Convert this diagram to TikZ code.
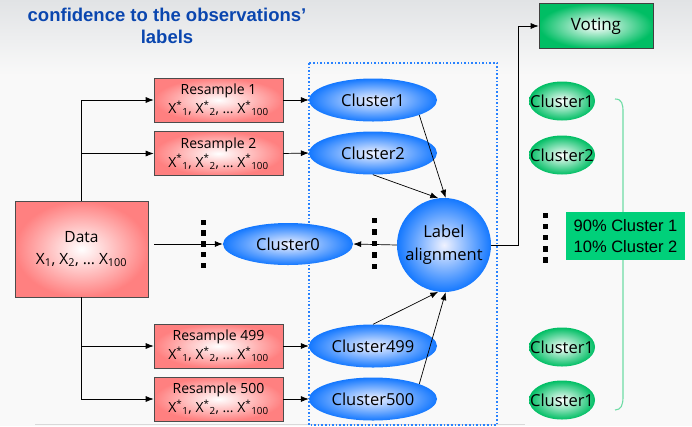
\documentclass[tikz,border=0pt]{standalone}
\usepackage{fontspec}
\setmainfont{Liberation Sans}
\newfontfamily\comic{Open Sans}
\usetikzlibrary{arrows.meta,shapes.geometric,calc}
\definecolor{bgc}{RGB}{249,249,249}
\definecolor{bgtop}{RGB}{225,227,229}
\definecolor{titlec}{RGB}{10,70,175}
\definecolor{pinkc}{RGB}{255,128,128}
\definecolor{blueOut}{RGB}{20,120,255}
\definecolor{blueIn}{RGB}{240,242,255}
\definecolor{greenOut}{RGB}{0,190,100}
\definecolor{greenbox}{RGB}{0,208,122}
\definecolor{bracec}{RGB}{110,220,165}
\definecolor{dotblue}{RGB}{40,130,255}
\newcommand{\xstar}{X\textsuperscript{*}\textsubscript{1}, X\textsuperscript{*}\textsubscript{2}, \dots\ X\textsuperscript{*}\textsubscript{100}}
\newcommand{\tight}[1]{\makebox[0pt]{#1}}
\begin{document}
\begin{tikzpicture}[x=1pt,y=-1pt,
  pinkbox/.style={draw=black!70, line width=0.6pt, shading=radial, inner color=white,
    outer color=pinkc, inner sep=0pt, align=center},
  resbox/.style={pinkbox, minimum width=129pt, minimum height=44pt,
    font=\comic\fontsize{14}{19}\selectfont},
  blueell/.style={ellipse, shading=radial, inner color=blueIn, outer color=blueOut,
    minimum width=128pt, minimum height=43pt, inner sep=0pt,
    font=\comic\fontsize{16.5}{19}\selectfont},
  greenell/.style={ellipse, shading=radial, inner color=white, outer color=greenOut,
    minimum width=66pt, minimum height=39pt, inner sep=0pt,
    font=\comic\fontsize{16.5}{19}\selectfont},
  arr/.style={-{Latex[length=8pt,width=6pt]}, line width=0.7pt}
]
\useasboundingbox (0,0) rectangle (692,426);
% background
\fill[bgc] (0,0) rectangle (692,426);
\shade[top color=bgtop, bottom color=bgc] (0,0) rectangle (692,75);
\draw[black!15, line width=0.8pt] (35,424) -- (525,424);

% title
\node[font=\bfseries\fontsize{18.5}{22}\selectfont, text=titlec, align=center] (title) at (167,26)
  {confidence to the observations'\\labels};

% dotted frame
\draw[dotblue, dotted, line width=1.6pt] (309,63) rectangle (497,425);

% data box
\node[pinkbox, minimum width=133pt, minimum height=96pt, font=\comic\fontsize{15.5}{22}\selectfont]
  (data) at (81.5,249) {Data\\X\textsubscript{1}, X\textsubscript{2}, \dots\ X\textsubscript{100}};

% resample boxes
\node[resbox] (r1) at (218.5,100) {Resample 1\\\xstar};
\node[resbox] (r2) at (218.5,153.5) {Resample 2\\\xstar};
\node[resbox] (r499) at (218.5,346) {Resample 499\\\xstar};
\node[resbox] (r500) at (218.5,399) {Resample 500\\\xstar};

% blue clusters
\node[blueell] (c1) at (373,100) {Cluster1};
\node[blueell] (c2) at (373,153) {Cluster2};
\node[blueell] (c499) at (373,346) {Cluster499};
\node[blueell] (c500) at (373,399) {Cluster500};
\node[blueell, minimum width=130pt, minimum height=42pt] (c0) at (288,244) {Cluster0};
\node[circle, shading=radial, inner color=blueIn, outer color=blueOut, minimum size=94pt,
  inner sep=0pt, align=center, font=\comic\fontsize{16.5}{23}\selectfont] (la) at (444,245)
  {Label\\alignment};

% voting
\node[draw=black!75, line width=0.7pt, shading=radial, inner color=white, outer color=greenOut,
  minimum width=114pt, minimum height=45pt, font=\comic\fontsize{17}{19}\selectfont]
  (vot) at (596,26) {Voting};

% green clusters
\node[greenell] (g1) at (562,101) {\tight{Cluster1}};
\node[greenell] (g2) at (562,155) {\tight{Cluster2}};
\node[greenell] (g3) at (562,347) {\tight{Cluster1}};
\node[greenell] (g4) at (562,400) {\tight{Cluster1}};

% brace
\draw[bracec, line width=1.1pt] (615,99) .. controls (622,99) and (623,104) .. (623,112)
  -- (623,397) .. controls (623,405) and (621,410) .. (615,410);
\node[fill=greenbox, minimum width=119pt, minimum height=48pt, inner sep=0pt, align=center,
  font=\fontsize{16.5}{21}\selectfont] (res) at (625.5,236) {90\% Cluster 1\\10\% Cluster 2};

% connectors from data
\draw[arr] (data.north) |- (r1.west);
\draw[arr] (data.north) |- (r2.west);
\draw[arr] (data.south) |- (r499.west);
\draw[arr] (data.south) |- (r500.west);
\draw[arr] (data.east |- c0.west) ++(6,0) -- (c0.west);

% resample to clusters
\draw[arr] (r1.east) -- (c1.west);
\draw[arr] (r2.east) -- (c2.west);
\draw[arr] (r499.east) -- (c499.west);
\draw[arr] (r500.east) -- (c500.west);

% clusters to label alignment
\draw[arr] (c1.-18) -- (la.88);
\draw[arr] (c2.south) -- (la.97);
\draw[arr] (c499.north) -- (la.-97);
\draw[arr] (c500.18) -- (la.-88);
\draw[arr] (la.west) -- (c0.east);

% to voting
\draw[arr] (la.east) -- ++(27,0) |- (vot.west);

% dots
\foreach \k in {0,...,4} {
  \fill (200.5,{219.5+10.8*\k}) rectangle ++(5.5,5.5);
  \fill (371.5,{217.5+11.5*\k}) rectangle ++(5.5,5.5);
  \fill (542.5,{212.5+11.2*\k}) rectangle ++(5.5,5.5);
}
\end{tikzpicture}
\end{document}
